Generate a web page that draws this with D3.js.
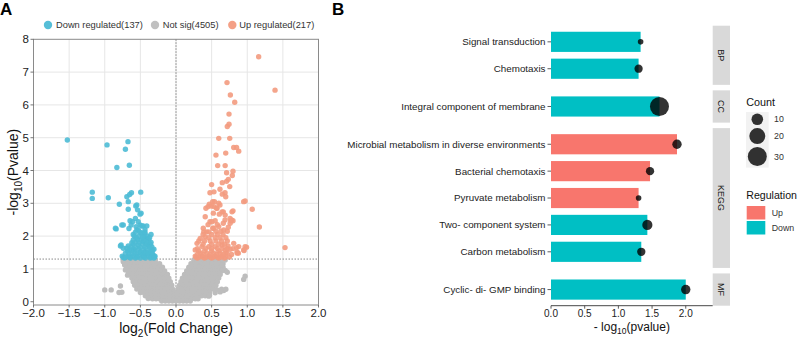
<!DOCTYPE html>
<html><head><meta charset="utf-8">
<script src="https://cdn.jsdelivr.net/npm/d3@7"></script>
<style>
body{margin:0;background:#fff}
svg{display:block}
text{font-family:"Liberation Sans",Arial,Helvetica,sans-serif}
</style>
</head><body>
<svg id="c" width="798" height="337"></svg>
<script>
// ---------------- Panel A: volcano data ----------------
const volcanoLegend = ["Down regulated(137)", "Not sig(4505)", "Up regulated(217)"];
const volcanoXTicks = [-2.0,-1.5,-1.0,-0.5,0.0,0.5,1.0,1.5,2.0];
const volcanoYTicks = [0,1,2,3,4,5,6,7,8];
const pCutoff = 1.3;

const downPoints = [
[-1.525,4.93],[-0.968,4.78],[-0.674,4.88],[-0.71,4.65],[-0.655,4.16],[-0.83,4.09],
[-1.175,3.34],[-1.175,3.15],[-0.95,3.17],[-0.795,2.97],[-0.69,3.2],[-0.65,3.27],[-0.625,3.32],[-0.495,3.34],
[-0.67,3.05],[-0.67,2.82],[-0.55,2.95],[-0.54,2.8],[-0.49,2.7],[-0.565,2.92],[-0.505,2.67],
[-0.645,2.47],[-0.61,2.44],[-0.57,2.54],[-0.74,2.34],[-0.84,2.22],[-0.66,2.23],
[-0.56,2.29],[-0.505,2.34],[-0.46,2.31],[-0.41,2.31],[-0.435,2.19],[-0.53,2.19],
[-0.63,2.34],[-0.53,2.44],[-0.48,2.31],[-0.76,2.34],[-0.85,2.24],
[-0.55,2.19],[-0.49,2.09],[-0.585,2.0],[-0.54,1.9],[-0.435,2.09],[-0.41,1.93],[-0.46,1.83],[-0.39,1.73],
[-0.34,1.68],[-0.53,1.73],[-0.62,1.8],[-0.67,1.7],[-0.78,1.70],[-0.74,1.63],[-0.71,1.48],[-0.68,1.55],
[-0.755,1.39],[-0.74,1.35],[-0.295,1.39],[-0.77,1.73],[-0.69,1.63],[-0.645,1.58],[-0.575,1.58],
[-0.505,1.52],[-0.435,1.52],[-0.365,1.48],[-0.32,1.42],[-0.33,1.58],
[-0.67,1.39],[-0.6,1.39],[-0.53,1.39],[-0.46,1.39],[-0.39,1.39],
[-0.72,1.33],[-0.64,1.33],[-0.57,1.33],[-0.5,1.33],[-0.43,1.33],[-0.36,1.33],[-0.31,1.33],
[-0.62,1.46],[-0.55,1.46],[-0.47,1.46],[-0.40,1.46],[-0.33,1.46],
[-0.6,1.6],[-0.52,1.6],[-0.45,1.6],[-0.38,1.6],[-0.31,1.6],
[-0.6,1.75],[-0.47,1.75],[-0.42,1.75],[-0.36,1.75],
[-0.6,1.88],[-0.49,1.88],[-0.44,1.88],[-0.38,1.88],
[-0.52,2.0],[-0.45,2.0],[-0.40,2.0],
[-0.57,2.12],[-0.5,2.12],[-0.44,2.12],
[-0.7,1.36],[-0.65,1.36],[-0.55,1.36],[-0.45,1.36],[-0.35,1.36],[-0.3,1.36],
[-0.66,1.5],[-0.58,1.5],[-0.5,1.5],[-0.44,1.5],[-0.39,1.5],[-0.34,1.5],
[-0.63,1.66],[-0.57,1.66],[-0.5,1.66],[-0.43,1.66],[-0.37,1.66],
[-0.57,1.81],[-0.52,1.81],[-0.4,1.81],[-0.35,1.81],
[-0.56,1.96],[-0.47,1.96],[-0.37,1.96],[-0.6,2.05],[-0.35,2.05]
];

const upPoints = [
[1.16,7.47],[1.39,6.45],[0.716,6.68],[0.763,6.30],[0.824,6.08],[0.744,5.72],[0.744,5.41],[0.72,5.34],
[0.60,4.98],[0.754,4.98],[0.81,4.70],[0.85,4.70],[0.88,4.59],[0.698,4.53],[0.561,4.47],[0.585,4.15],[0.69,4.15],
[0.80,3.98],[0.79,3.85],[0.71,3.93],[0.71,3.67],[0.65,3.63],[0.734,3.73],[0.50,3.57],[0.477,3.32],[0.533,3.35],
[0.617,3.43],[0.65,3.28],[0.688,3.32],[0.698,3.20],[0.754,3.51],[0.54,3.05],[0.60,3.0],[0.97,3.07],
[1.07,2.82],[1.17,2.28],[1.53,1.65],[0.99,1.66],[0.955,1.56],[0.80,2.47],[0.77,2.47],[0.76,2.39],[0.80,2.77],
[0.86,1.48],[0.70,1.49],[0.76,1.60],
[0.42,2.85],[0.468,2.97],[0.515,3.05],[0.533,2.90],[0.57,2.85],[0.617,2.95],[0.664,2.74],[0.608,2.67],
[0.524,2.70],[0.78,2.49],[0.758,2.54],[0.688,2.49],[0.664,2.39],[0.734,2.27],[0.477,2.44],[0.515,2.24],
[0.383,2.24],[0.43,2.13],[0.97,1.68],[0.85,1.65],[0.875,1.48],
[0.45,2.90],[0.495,2.92],[0.575,2.85],[0.646,2.74],[0.69,2.64],[0.786,2.74],
[0.41,2.59],[0.505,2.44],[0.55,2.47],[0.6,2.29],[0.67,2.19],[0.53,2.24],[0.46,2.13],[0.39,2.13],[0.34,1.93],[0.41,1.98],
[0.95,3.05],[0.81,1.78],[0.88,1.68],[0.95,1.58],
[0.295,1.78],[0.365,1.68],[0.46,1.68],[0.55,1.68],[0.646,1.73],[0.69,1.58],[0.27,1.58],[0.34,1.48],
[0.435,1.48],[0.53,1.48],[0.62,1.48],[0.716,1.48],[0.856,1.52],
[0.27,1.39],[0.365,1.39],[0.46,1.39],[0.55,1.39],[0.646,1.39],
[0.3,1.33],[0.4,1.33],[0.5,1.33],[0.6,1.33],[0.68,1.33],
[0.32,1.55],[0.4,1.55],[0.5,1.55],[0.6,1.55],
[0.32,1.85],[0.4,1.85],[0.48,1.85],[0.56,1.85],[0.64,1.85],[0.72,1.85],
[0.38,2.05],[0.5,2.05],[0.58,2.05],[0.66,2.05],[0.73,1.7],[0.45,2.35],[0.58,2.35],
[0.28,1.36],[0.33,1.36],[0.38,1.36],[0.43,1.36],[0.48,1.36],[0.53,1.36],[0.58,1.36],[0.63,1.36],[0.7,1.36],[0.75,1.36],
[0.3,1.44],[0.38,1.44],[0.48,1.44],[0.57,1.44],[0.66,1.44],[0.78,1.44],
[0.3,1.62],[0.42,1.62],[0.5,1.62],[0.58,1.62],[0.65,1.62],[0.72,1.62],[0.8,1.62],
[0.38,1.75],[0.5,1.75],[0.6,1.75],[0.68,1.75],
[0.46,1.95],[0.55,1.95],[0.62,1.95],[0.7,1.95],
[0.56,2.15],[0.63,2.15],[0.72,2.15]
];

// not significant: rows of [-log10 p, list of log2FC values]
const notSigRows = [
[1.27,[-0.74,-0.69,-0.64,-0.59,-0.54,-0.49,-0.44,-0.39,-0.34,-0.29, 0.25,0.3,0.35,0.4,0.45,0.5,0.55,0.6,0.65,0.69]],
[1.16,[-0.72,-0.67,-0.62,-0.57,-0.52,-0.47,-0.42,-0.37,-0.32,-0.27,-0.23, 0.21,0.26,0.31,0.36,0.41,0.46,0.51,0.56,0.61,0.66]],
[1.05,[-0.69,-0.64,-0.59,-0.54,-0.49,-0.44,-0.39,-0.34,-0.29,-0.24,-0.19, 0.18,0.23,0.28,0.33,0.38,0.43,0.48,0.53,0.58,0.63,0.66]],
[0.94,[-0.66,-0.61,-0.56,-0.51,-0.46,-0.41,-0.36,-0.31,-0.26,-0.21,-0.16, 0.15,0.2,0.25,0.3,0.35,0.4,0.45,0.5,0.55,0.6,0.64]],
[0.83,[-0.64,-0.59,-0.54,-0.49,-0.44,-0.39,-0.34,-0.29,-0.24,-0.19,-0.14,-0.12, 0.12,0.17,0.22,0.27,0.32,0.37,0.42,0.47,0.52,0.57,0.62]],
[0.72,[-0.62,-0.57,-0.52,-0.47,-0.42,-0.37,-0.32,-0.27,-0.22,-0.17,-0.13,-0.1, 0.09,0.14,0.19,0.24,0.29,0.34,0.39,0.44,0.49,0.54,0.6]],
[0.61,[-0.6,-0.55,-0.5,-0.45,-0.4,-0.35,-0.3,-0.25,-0.2,-0.15,-0.11,-0.08, 0.07,0.12,0.17,0.22,0.27,0.32,0.37,0.42,0.47,0.52,0.58]],
[0.50,[-0.58,-0.53,-0.48,-0.43,-0.38,-0.33,-0.28,-0.23,-0.18,-0.13,-0.09,-0.06, 0.05,0.1,0.15,0.2,0.25,0.3,0.35,0.4,0.45,0.5,0.56]],
[0.39,[-0.55,-0.5,-0.45,-0.4,-0.35,-0.3,-0.25,-0.2,-0.15,-0.1,-0.05, 0.03,0.08,0.13,0.18,0.23,0.28,0.33,0.38,0.43,0.48,0.52]],
[0.28,[-0.5,-0.45,-0.4,-0.35,-0.3,-0.25,-0.2,-0.15,-0.1,-0.05,-0.02, 0.02,0.07,0.12,0.17,0.22,0.27,0.32,0.37,0.42,0.47]],
[0.18,[-0.43,-0.38,-0.33,-0.28,-0.23,-0.18,-0.13,-0.08,-0.03, 0.01,0.06,0.11,0.16,0.21,0.26,0.31,0.36,0.41]],
[0.09,[-0.33,-0.28,-0.23,-0.18,-0.13,-0.08,-0.03, 0.02,0.07,0.12,0.17,0.22,0.27,0.31]],
[0.02,[-0.2,-0.15,-0.1,-0.05,0.0,0.05,0.1,0.15,0.2]]
];
const notSigOutliers = [
[-1.0,0.36],[-0.91,0.36],[-0.8,0.28],[-0.76,0.29],[-0.78,0.48],[-0.67,0.91],[-0.68,0.81],
[-0.74,1.22],[-0.72,1.12],[-0.71,0.97],[-0.39,0.10],
[0.97,0.78],[0.95,0.68],[0.67,0.34],[0.62,0.30],[0.55,0.27],[0.46,0.17],[0.69,0.95],[0.646,1.12],
[0.57,0.37],[0.64,0.38],[0.70,0.38],[0.47,0.2],[0.72,0.9]
];

// ---------------- Panel B: enrichment data ----------------
const terms = ["Signal transduction","Chemotaxis","Integral component of membrane",
  "Microbial metabolism in diverse environments","Bacterial chemotaxis","Pyruvate metabolism",
  "Two- component system","Carbon metabolism","Cyclic- di- GMP binding"];
const termGroup = ["BP","BP","CC","KEGG","KEGG","KEGG","KEGG","KEGG","MF"];
const negLog10P = [1.33,1.30,1.61,1.87,1.47,1.30,1.43,1.34,2.00];
const geneCount = [5,6,30,7,6,5,8,6,7];
const regulation = ["Down","Down","Down","Up","Up","Up","Down","Down","Down"];
const groups = ["BP","CC","KEGG","MF"];
const regLevels = ["Up","Down"];
const countBreaks = [10,20,30];
const barXTicks = [0.0,0.5,1.0,1.5,2.0];

// ---------------- drawing ----------------
const svg = d3.select("#c");

// ===== Panel A =====
const xV = d3.scaleLinear().domain([-2,2]).range([33.5,318.5]);
const yV = d3.scaleLinear().domain([-0.1,8]).range([305,39.3]);
const gA = svg.append("g");

gA.selectAll(".gx").data(volcanoXTicks.filter(v=>Math.abs(v)<2)).enter().append("line")
  .attr("x1",d=>xV(d)).attr("x2",d=>xV(d)).attr("y1",yV.range()[1]).attr("y2",yV.range()[0])
  .attr("stroke","#e6e6e6").attr("stroke-width",1);
gA.selectAll(".gy").data(volcanoYTicks.filter(v=>v>0&&v<8)).enter().append("line")
  .attr("x1",xV.range()[0]).attr("x2",xV.range()[1]).attr("y1",d=>yV(d)).attr("y2",d=>yV(d))
  .attr("stroke","#e6e6e6").attr("stroke-width",1);

gA.append("line").attr("x1",xV(0)).attr("x2",xV(0)).attr("y1",yV.range()[1]).attr("y2",yV.range()[0])
  .attr("stroke","#6b6b6b").attr("stroke-width",0.8).attr("stroke-dasharray","1.5,1.5");
gA.append("line").attr("x1",xV.range()[0]).attr("x2",xV.range()[1]).attr("y1",yV(pCutoff)).attr("y2",yV(pCutoff))
  .attr("stroke","#6b6b6b").attr("stroke-width",0.8).attr("stroke-dasharray","1.5,1.5");

const notSig = [];
notSigRows.forEach(([y,xs])=>xs.forEach(x=>notSig.push([x,y])));
notSigOutliers.forEach(p=>notSig.push(p));
const colNS="#bdbdbd", colDown="#4dbbd5", colUp="#f39b7f";
const R=2.7;
gA.append("g").selectAll("circle").data(notSig).enter().append("circle")
  .attr("cx",d=>xV(d[0])).attr("cy",d=>yV(d[1])).attr("r",R).attr("fill",colNS);
gA.append("g").selectAll("circle").data(downPoints).enter().append("circle")
  .attr("cx",d=>xV(d[0])).attr("cy",d=>yV(d[1])).attr("r",R).attr("fill",colDown).attr("fill-opacity",0.9);
gA.append("g").selectAll("circle").data(upPoints).enter().append("circle")
  .attr("cx",d=>xV(d[0])).attr("cy",d=>yV(d[1])).attr("r",R).attr("fill",colUp).attr("fill-opacity",0.9);

gA.append("rect").attr("x",xV.range()[0]).attr("y",yV.range()[1])
  .attr("width",xV.range()[1]-xV.range()[0]).attr("height",yV.range()[0]-yV.range()[1])
  .attr("fill","none").attr("stroke","#8a8a8a").attr("stroke-width",1);

gA.selectAll(".ty").data(volcanoYTicks).enter().append("line")
  .attr("x1",xV.range()[0]-3).attr("x2",xV.range()[0]).attr("y1",d=>yV(d)).attr("y2",d=>yV(d))
  .attr("stroke","#555").attr("stroke-width",0.8);
gA.selectAll(".tly").data(volcanoYTicks).enter().append("text")
  .attr("x",xV.range()[0]-4.5).attr("y",d=>yV(d)).attr("dy","0.36em").attr("text-anchor","end")
  .attr("font-size","11.5px").attr("fill","#222").text(d=>d);
gA.selectAll(".tx").data(volcanoXTicks).enter().append("line")
  .attr("x1",d=>xV(d)).attr("x2",d=>xV(d)).attr("y1",yV.range()[0]).attr("y2",yV.range()[0]+2.5)
  .attr("stroke","#555").attr("stroke-width",0.8);
gA.selectAll(".tlx").data(volcanoXTicks).enter().append("text")
  .attr("x",d=>xV(d)).attr("y",317).attr("text-anchor","middle")
  .attr("font-size","11.5px").attr("fill","#222").text(d=>(d<0?"\u2212":"")+Math.abs(d).toFixed(1));

const xt = gA.append("text").attr("x",xV(0)).attr("y",333).attr("text-anchor","middle")
  .attr("font-size","14px").attr("fill","#111");
xt.append("tspan").text("log");
xt.append("tspan").attr("dy",3.5).attr("font-size","10px").text("2");
xt.append("tspan").attr("dy",-3.5).text("(Fold Change)");
const yt = gA.append("text").attr("transform",`translate(18,${(yV.range()[0]+yV.range()[1])/2}) rotate(-90)`)
  .attr("text-anchor","middle").attr("font-size","14px").attr("fill","#111");
yt.append("tspan").text("-log");
yt.append("tspan").attr("dy",3.5).attr("font-size","10px").text("10");
yt.append("tspan").attr("dy",-3.5).text("(Pvalue)");

const legA = [[48,colDown,56],[155,colNS,162.7],[232.3,colUp,239.3]];
legA.forEach((l,i)=>{
  gA.append("circle").attr("cx",l[0]).attr("cy",25).attr("r",4.2).attr("fill",l[1]).attr("fill-opacity",0.95);
  gA.append("text").attr("x",l[2]).attr("y",25).attr("dy","0.35em").attr("font-size","9.3px")
    .attr("fill","#333").text(volcanoLegend[i]);
});

svg.append("text").attr("x",0).attr("y",14.5).attr("font-size","17px").attr("font-weight","bold").attr("fill","#000").text("A");
svg.append("text").attr("x",332).attr("y",14.5).attr("font-size","17px").attr("font-weight","bold").attr("fill","#000").text("B");

// ===== Panel B =====
const gB = svg.append("g");
const xB = d3.scaleLinear().domain([0,2.4]).range([551,712.7]);
const topB = 25.7, botB = 305.7, gap = 5.5;
const nPer = groups.map(g=>termGroup.filter(t=>t===g).length);
const unit = (botB-topB-gap*(groups.length-1))/(d3.sum(nPer)+0.2*groups.length);
const regColor = d3.scaleOrdinal().domain(regLevels).range(["#F8766D","#00BFC4"]);
const cRescale = d3.scaleLinear().domain([5, 30]).range([0,1]).clamp(true);
const rOut = d3.scaleLinear().domain([0,1]).range([2.8,9.5]);
const rSize = c => rOut(Math.sqrt(cRescale(c)));

const stripX = xB.range()[1], stripW = 17.3;
let yCursor = topB;
groups.forEach((g)=>{
  const idx = terms.map((t,i)=>i).filter(i=>termGroup[i]===g);
  const h = (idx.length+0.2)*unit;
  const band = d3.scaleBand().domain(idx.map(i=>terms[i])).range([yCursor,yCursor+h])
    .paddingInner(0.25).paddingOuter(0.225);
  gB.append("g").selectAll("rect").data(idx).enter().append("rect")
    .attr("x",xB(0)).attr("y",i=>band(terms[i])).attr("width",i=>xB(negLog10P[i])-xB(0))
    .attr("height",band.bandwidth()).attr("fill",i=>regColor(regulation[i]));
  gB.append("g").selectAll("circle").data(idx).enter().append("circle")
    .attr("cx",i=>xB(negLog10P[i])).attr("cy",i=>band(terms[i])+band.bandwidth()/2)
    .attr("r",i=>rSize(geneCount[i])).attr("fill","#000").attr("fill-opacity",0.8);
  idx.forEach(i=>{
    const cy = band(terms[i])+band.bandwidth()/2;
    gB.append("line").attr("x1",xB(0)-3.5).attr("x2",xB(0)).attr("y1",cy).attr("y2",cy)
      .attr("stroke","#333").attr("stroke-width",0.8);
    gB.append("text").attr("x",xB(0)-5.5).attr("y",cy).attr("dy","0.35em").attr("text-anchor","end")
      .attr("font-size","9.8px").attr("fill","#222").text(terms[i]);
  });
  gB.append("rect").attr("x",stripX).attr("y",yCursor).attr("width",stripW).attr("height",h).attr("fill","#d9d9d9");
  gB.append("text").attr("transform",`translate(${stripX+stripW/2},${yCursor+h/2}) rotate(90)`)
    .attr("text-anchor","middle").attr("dy","0.35em").attr("font-size","9px").attr("fill","#1a1a1a").text(g);
  yCursor += h + gap;
});

gB.append("line").attr("x1",xB.range()[0]).attr("x2",xB.range()[1]).attr("y1",botB).attr("y2",botB)
  .attr("stroke","#333").attr("stroke-width",0.9);
gB.selectAll(".bt").data(barXTicks).enter().append("line")
  .attr("x1",d=>xB(d)).attr("x2",d=>xB(d)).attr("y1",botB).attr("y2",botB+3)
  .attr("stroke","#333").attr("stroke-width",0.8);
gB.selectAll(".btl").data(barXTicks).enter().append("text")
  .attr("x",d=>xB(d)).attr("y",317).attr("text-anchor","middle").attr("font-size","10px")
  .attr("fill","#222").text(d=>d.toFixed(1));
const bxt = gB.append("text").attr("x",(xB.range()[0]+xB.range()[1])/2).attr("y",331).attr("text-anchor","middle")
  .attr("font-size","12px").attr("fill","#111");
bxt.append("tspan").text("- log");
bxt.append("tspan").attr("dy",3).attr("font-size","8.5px").text("10");
bxt.append("tspan").attr("dy",-3).text("(pvalue)");

const lx = 746.3;
gB.append("text").attr("x",lx).attr("y",106).attr("font-size","10.8px").attr("fill","#111").text("Count");
let ky = 112;
const keyH = countBreaks.map(c=>Math.max(14.6, 2*rSize(c)+3));
gB.append("rect").attr("x",746).attr("y",ky).attr("width",22.7).attr("height",d3.sum(keyH)).attr("fill","#f2f2f2");
countBreaks.forEach((c,i)=>{
  const cy = ky + keyH[i]/2;
  gB.append("circle").attr("cx",757.3).attr("cy",cy).attr("r",rSize(c)).attr("fill","#000").attr("fill-opacity",0.8);
  gB.append("text").attr("x",774).attr("y",cy).attr("dy","0.35em").attr("font-size","8.8px").attr("fill","#333").text(c);
  ky += keyH[i];
});

gB.append("text").attr("x",lx).attr("y",199).attr("font-size","10.6px").attr("fill","#111").text("Regulation");
regLevels.forEach((r,i)=>{
  const y0 = 206 + i*15;
  gB.append("rect").attr("x",746.7).attr("y",y0).attr("width",18.6).attr("height",13.5).attr("fill",regColor(r));
  gB.append("text").attr("x",771.7).attr("y",y0+6.75).attr("dy","0.35em").attr("font-size","8.8px").attr("fill","#333").text(r);
});
</script>
</body></html>
